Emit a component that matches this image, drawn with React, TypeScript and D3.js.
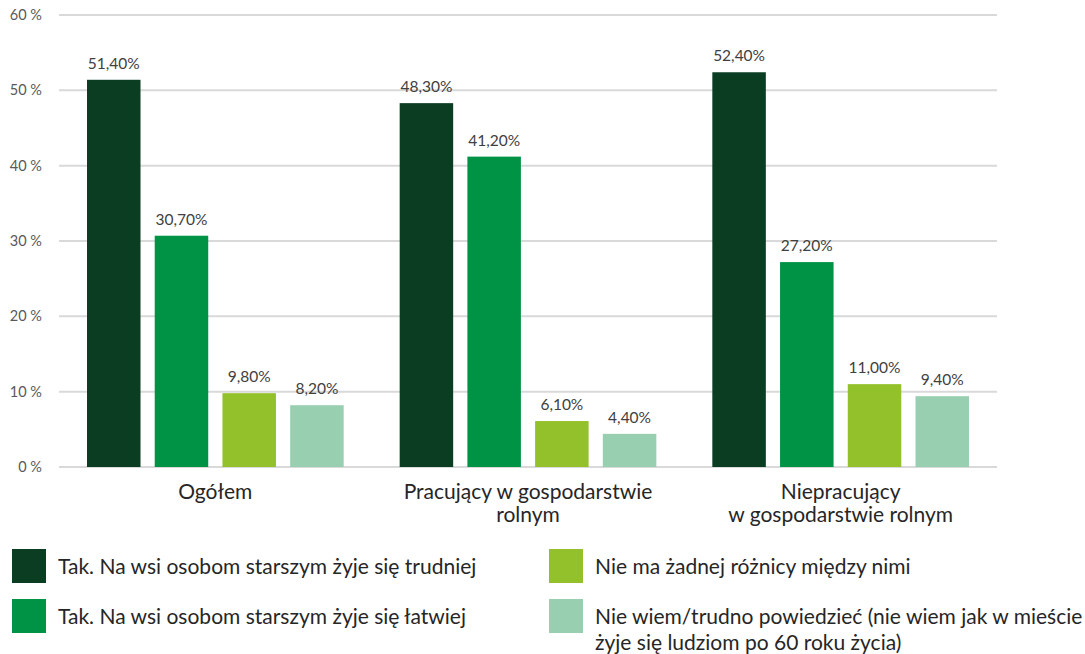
import React from "react";
import * as d3 from "d3";

const categories: string[][] = [
  ["Ogółem"],
  ["Pracujący w gospodarstwie", "rolnym"],
  ["Niepracujący", "w gospodarstwie rolnym"],
];
const seriesNames: string[][] = [
  ["Tak. Na wsi osobom starszym żyje się trudniej"],
  ["Tak. Na wsi osobom starszym żyje się łatwiej"],
  ["Nie ma żadnej różnicy między nimi"],
  ["Nie wiem/trudno powiedzieć (nie wiem jak w mieście", "żyje się ludziom po 60 roku życia)"],
];
const colors = ["#0b3d23", "#009245", "#93c12c", "#97cfb0"];
const values: number[][] = [
  [51.4, 30.7, 9.8, 8.2],
  [48.3, 41.2, 6.1, 4.4],
  [52.4, 27.2, 11.0, 9.4],
];
const yTicks = [0, 10, 20, 30, 40, 50, 60];

const W = 1085;
const H = 654;
const left = 59;
const right = 997;
const top = 15;
const bottom = 467;
const font = "Lato, 'Open Sans', sans-serif";

export default function App() {
  const y = d3.scaleLinear().domain([0, 60]).range([bottom, top]);
  const x0 = d3.scaleBand<number>().domain(d3.range(categories.length)).range([left, right]).padding(0);
  const inner = d3
    .scaleBand<number>()
    .domain(d3.range(seriesNames.length))
    .range([28, x0.bandwidth() - 28])
    .paddingInner(0.21);
  const fmt = (v: number) => v.toFixed(2).replace(".", ",") + "%";

  return (
    <svg width={W} height={H} style={{ position: "absolute", left: 0, top: 0, background: "#fff" }}>
      {yTicks.map((t) => (
        <g key={t}>
          <line x1={left} x2={right} y1={y(t)} y2={y(t)} stroke="#d9d9d9" strokeWidth={2} />
          <text x={42} y={y(t)} dy="0.35em" textAnchor="end" fontFamily={font} fontSize={14.5} fill="#595959">
            {t} %
          </text>
        </g>
      ))}
      {values.map((row, gi) => (
        <g key={gi} transform={`translate(${x0(gi)},0)`}>
          {row.map((v, si) => (
            <g key={si}>
              <rect
                x={inner(si)}
                y={y(v)}
                width={inner.bandwidth()}
                height={bottom - y(v)}
                fill={colors[si]}
              />
              <text
                x={(inner(si) as number) + inner.bandwidth() / 2}
                y={y(v) - 11}
                textAnchor="middle"
                fontFamily={font}
                fontSize={15.5}
                fill="#404040"
              >
                {fmt(v)}
              </text>
            </g>
          ))}
          {categories[gi].map((line, li) => (
            <text
              key={li}
              x={x0.bandwidth() / 2}
              y={499 + li * 23}
              textAnchor="middle"
              fontFamily={font}
              fontSize={21}
              fill="#262626"
            >
              {line}
            </text>
          ))}
        </g>
      ))}
      {seriesNames.map((lines, i) => {
        const col = i < 2 ? 0 : 1;
        const row = i % 2;
        const sx = col === 0 ? 12 : 549;
        const sy = row === 0 ? 549 : 599;
        return (
          <g key={i}>
            <rect x={sx} y={sy} width={34} height={34} fill={colors[i]} />
            {lines.map((l, li) => (
              <text
                key={li}
                x={sx + 46}
                y={sy + 25 + li * 26}
                fontFamily={font}
                fontSize={21}
                fill="#262626"
              >
                {l}
              </text>
            ))}
          </g>
        );
      })}
    </svg>
  );
}
